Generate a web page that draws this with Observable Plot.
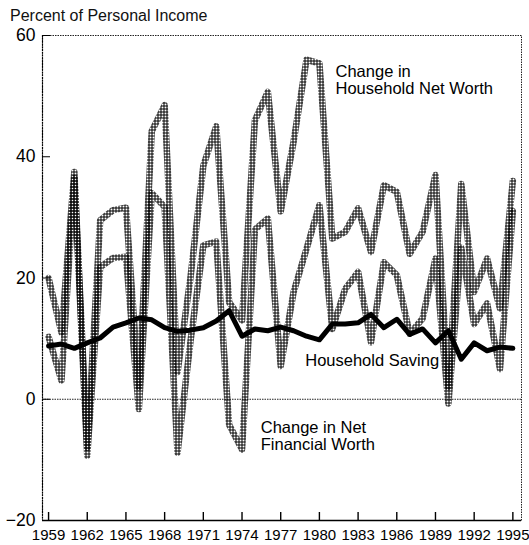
<!DOCTYPE html>
<html><head><meta charset="utf-8">
<script src="https://cdn.jsdelivr.net/npm/d3@7"></script>
<script src="https://cdn.jsdelivr.net/npm/@observablehq/plot@0.6"></script>
<style>
body{margin:0;background:#fff;font-family:"Liberation Sans",Arial,sans-serif;}
#title{height:26px;padding-left:10px;font-size:16px;line-height:32px;color:#111;white-space:nowrap;}
</style></head><body>
<div id="title">Percent of Personal Income</div>
<div id="chart"></div>
<script>
const years = [1959,1960,1961,1962,1963,1964,1965,1966,1967,1968,1969,1970,1971,1972,1973,1974,1975,1976,1977,1978,1979,1980,1981,1982,1983,1984,1985,1986,1987,1988,1989,1990,1991,1992,1993,1994,1995];
const netWorth = [20,11,37.5,-8,29.5,31.2,31.6,2,44.2,48.5,4.5,20,38.5,45,16,13,46,50.7,31,42.5,56,55.4,26.5,27.6,31.5,24.3,35.3,34.2,24,27.6,37,2,35.5,17.7,23.2,15,36];
const netFinancialWorth = [10.3,3.1,36.5,-9.3,21.8,23.3,23.5,-1.6,34,31.7,-8.8,9.5,25.4,26,-4.2,-8.3,28,29.8,5.5,17.7,24.8,32,11.6,18.2,21,9.4,22.6,20.5,10.8,13.3,23.2,-0.7,25,12.4,15.8,5,31];
const saving = [8.8,9.1,8.4,9.3,10.1,11.9,12.6,13.4,13.1,11.8,11.2,11.4,11.8,12.9,14.6,10.4,11.6,11.3,11.9,11.3,10.4,9.8,12.4,12.4,12.6,14,11.8,13.2,10.7,11.6,9.3,11.3,6.6,9.3,8,8.6,8.4];
const xTicks = [1959,1962,1965,1968,1971,1974,1977,1980,1983,1986,1989,1992,1995];
const yTicks = [-20,0,20,40,60];

const rows = (vals) => years.map((year, i) => ({year, value: vals[i]}));

const svg = Plot.plot({
  width: 529, height: 519,
  marginTop: 9, marginLeft: 42, marginRight: 8, marginBottom: 25,
  style: {fontFamily: "'Liberation Sans', Arial, sans-serif", background: "white", color: "#111", overflow: "visible"},
  x: {domain: [1958.53, 1995.67]},
  y: {domain: [-20, 60]},
  marks: [
    Plot.frame({stroke: "#222", strokeDasharray: "1.5,1"}),
    Plot.ruleX([1958.53], {stroke: "#000", strokeDasharray: "2,0.8", strokeWidth: 1.2}),
    Plot.ruleY([0], {stroke: "#222", strokeDasharray: "1.5,1"}),
    Plot.line(rows(netWorth), {x: "year", y: "value", stroke: "url(#hatch)", strokeWidth: 6.5, strokeLinejoin: "round"}),
    Plot.line(rows(netFinancialWorth), {x: "year", y: "value", stroke: "url(#hatch)", strokeWidth: 6.5, strokeLinejoin: "round"}),
    Plot.line(rows(saving), {x: "year", y: "value", stroke: "#000", strokeWidth: 5, strokeLinejoin: "round"}),
    Plot.ruleY([-20], {stroke: "#000", strokeWidth: 1.5}),
    Plot.tickX(xTicks, {x: d => d, stroke: "#000", strokeWidth: 1.4, insetTop: 477}),
    Plot.tickY(yTicks, {y: d => d, stroke: "#000", insetRight: 471}),
    Plot.axisX(xTicks, {tickSize: 0, tickPadding: 9, fontSize: 15, tickFormat: "d", label: null, fill: "#000"}),
    Plot.axisY(yTicks, {tickSize: 0, tickPadding: 7, fontSize: 17.5, label: null, fill: "#000"}),
    Plot.text(["Change in\nHousehold Net Worth"], {x: 1981.25, y: 52.7, textAnchor: "start", lineAnchor: "middle", fontSize: 16.5, lineHeight: 1.05, fill: "#000"}),
    Plot.text(["Household Saving"], {x: 1978.9, y: 6.3, textAnchor: "start", fontSize: 16.5, fill: "#000"}),
    Plot.text(["Change in Net\nFinancial Worth"], {x: 1975.45, y: -6.1, textAnchor: "start", lineAnchor: "middle", fontSize: 16.5, lineHeight: 1.05, fill: "#000"})
  ]
});
const ns = "http://www.w3.org/2000/svg";
const defs = document.createElementNS(ns, "defs");
defs.innerHTML = '<pattern id="hatch" patternUnits="userSpaceOnUse" width="3" height="3"><rect x="1" y="0" width="1" height="3" fill="#000"/><rect x="0" y="1" width="3" height="1" fill="#000"/></pattern>';
svg.insertBefore(defs, svg.firstChild);
document.getElementById("chart").appendChild(svg);
</script>
</body></html>
